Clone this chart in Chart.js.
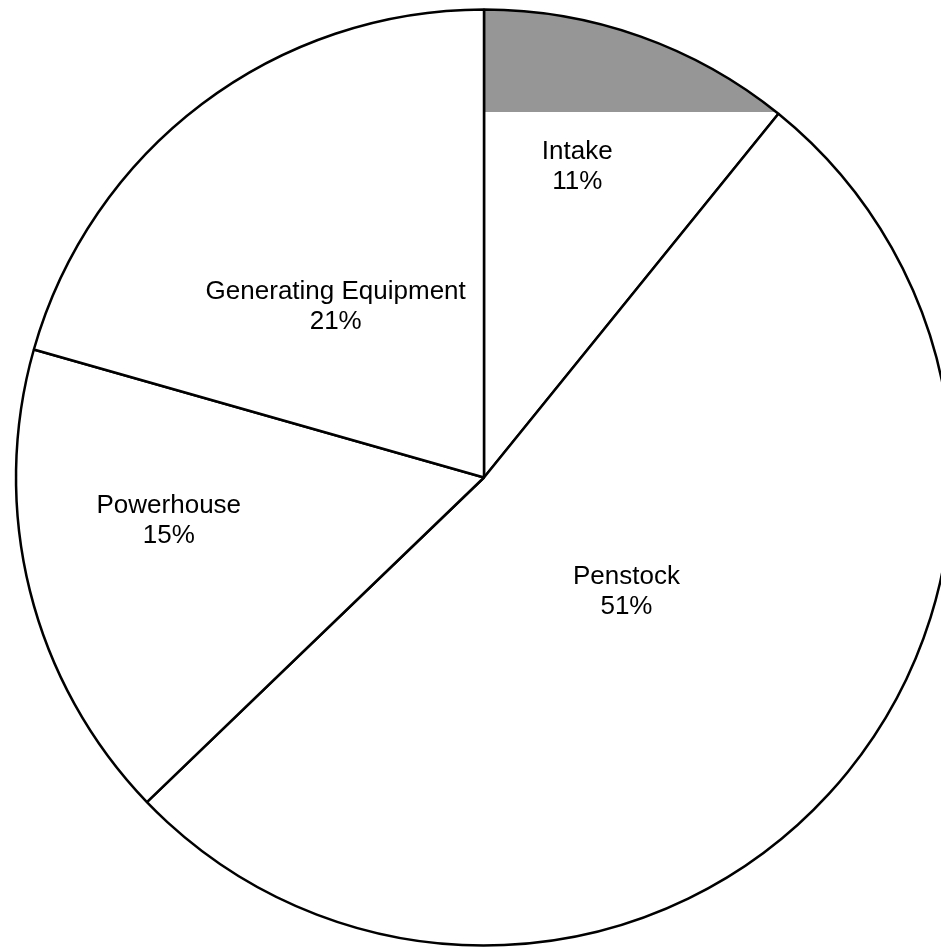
<!DOCTYPE html>
<html>
<head>
<meta charset="utf-8">
<script src="https://cdn.jsdelivr.net/npm/chart.js@4/dist/chart.umd.min.js"></script>
<style>
  html, body { margin: 0; padding: 0; background: #fff; overflow: hidden; }
  #costPie { display: block; }
</style>
</head>
<body>
<canvas id="costPie" width="968" height="948"></canvas>
<script>
  const categories = ['Intake', 'Penstock', 'Powerhouse', 'Generating Equipment'];
  const shares     = [10.83, 51.97, 16.61, 20.59];
  const pctLabels  = ['11%', '51%', '15%', '21%'];

  // label placement: angle clockwise from 12 o'clock (deg), distance as fraction of radius
  const labelAngle  = [16.7, 128.7, 262.1, 319];
  const labelRadius = [0.693, 0.39, 0.68, 0.483];

  const RADIUS = 468;
  const GREY = '#969696';
  const GREY_DEPTH = 0.22; // grey band in the Intake slice, as fraction of radius from the top

  // Intake slice gets a grey band across its top
  function sliceFill(ctx) {
    const area = ctx.chart.chartArea;
    if (ctx.dataIndex !== 0 || !area) return '#ffffff';
    const cy = (area.top + area.bottom) / 2;
    const top = cy - RADIUS;
    const g = ctx.chart.ctx.createLinearGradient(0, top, 0, top + 2 * RADIUS);
    const stop = GREY_DEPTH / 2;
    g.addColorStop(0, GREY);
    g.addColorStop(stop, GREY);
    g.addColorStop(stop, '#ffffff');
    g.addColorStop(1, '#ffffff');
    return g;
  }

  const sliceLabels = {
    id: 'sliceLabels',
    afterDatasetsDraw(chart) {
      const c = chart.ctx;
      const arcs = chart.getDatasetMeta(0).data;
      c.save();
      c.font = '26px "Liberation Sans", Arial, sans-serif';
      c.fillStyle = '#000';
      c.textAlign = 'center';
      c.textBaseline = 'middle';
      arcs.forEach((arc, i) => {
        const a = labelAngle[i] * Math.PI / 180;
        const r = arc.outerRadius * labelRadius[i];
        const x = arc.x + Math.sin(a) * r;
        const y = arc.y - Math.cos(a) * r;
        c.fillText(categories[i], x, y - 15);
        c.fillText(pctLabels[i], x, y + 15);
      });
      c.restore();
    }
  };

  new Chart(document.getElementById('costPie'), {
    type: 'pie',
    data: {
      labels: categories,
      datasets: [{
        data: shares,
        backgroundColor: sliceFill,
        borderColor: '#000',
        borderWidth: 2.5,
      }]
    },
    options: {
      responsive: false,
      animation: false,
      radius: RADIUS,
      layout: { padding: { top: 7 } },
      plugins: {
        legend: { display: false },
        tooltip: { enabled: false },
      }
    },
    plugins: [sliceLabels]
  });
</script>
</body>
</html>
